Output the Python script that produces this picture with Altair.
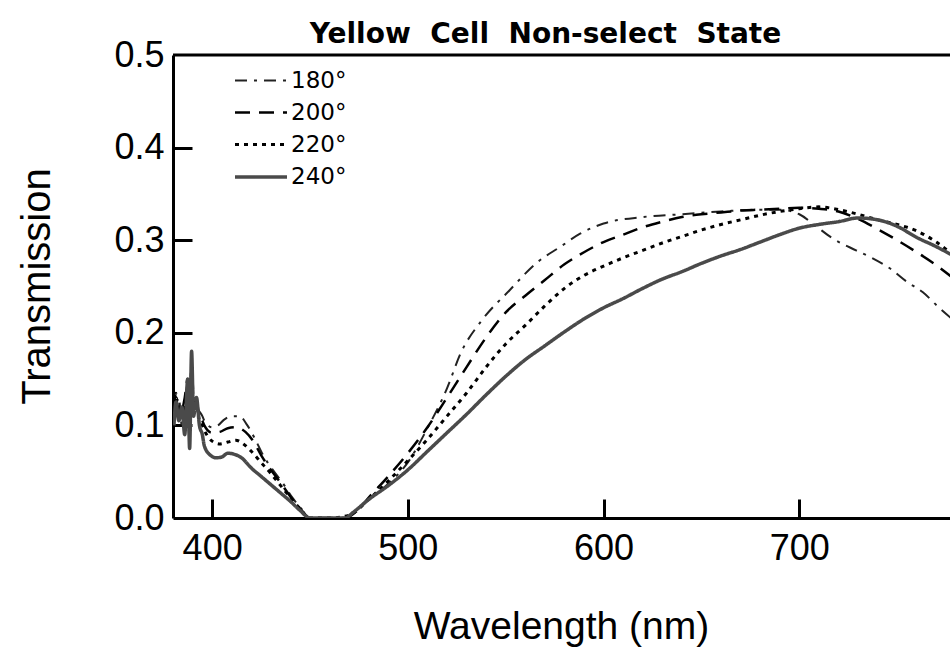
import altair as alt
import pandas as pd

series_names = ["180°", "200°", "220°", "240°"]

# ---- 180° (dash-dot) ----
wl_180 = [380.5, 381.5, 383, 384.5, 386, 387.5, 388.5, 389.5, 390.5, 392, 393.5, 395,
          396, 400, 403, 406, 410, 414, 418, 422, 426, 431, 436, 441, 446, 450,
          455, 460, 468, 475, 480, 490, 500, 510, 520, 527, 538, 552, 566, 578, 588,
          600, 620, 640, 660, 680, 690, 700, 708, 717, 729, 737, 746, 755, 763, 771, 778]
t_180 = [0.105, 0.12, 0.13, 0.10, 0.125, 0.145, 0.095, 0.17, 0.125, 0.12, 0.115, 0.11,
         0.105, 0.098, 0.100, 0.106, 0.110, 0.110, 0.100, 0.085, 0.068, 0.052, 0.038, 0.022, 0.009, 0.0,
         0.0, 0.0, 0.0, 0.010, 0.020, 0.037, 0.060, 0.097, 0.140, 0.178, 0.214, 0.246, 0.276, 0.293, 0.307,
         0.318, 0.325, 0.328, 0.331, 0.333, 0.333, 0.328, 0.316, 0.302, 0.289, 0.281, 0.270, 0.255, 0.244, 0.228, 0.215]

# ---- 200° (dashed) ----
wl_200 = [380.5, 381.5, 383, 384.5, 386, 387.5, 388.5, 389.5, 390.5, 392, 393.5, 395,
          396, 400, 404, 408, 412, 417, 421, 425, 430, 435, 440, 445, 450,
          455, 460, 468, 475, 480, 490, 500, 510, 520, 530, 540, 550, 560, 570, 580, 590,
          600, 610, 620, 630, 640, 650, 660, 670, 680, 690, 700, 710, 720, 730, 740, 750, 760, 770, 778]
t_200 = [0.12, 0.135, 0.11, 0.115, 0.13, 0.15, 0.10, 0.165, 0.13, 0.12, 0.11, 0.105,
         0.100, 0.092, 0.093, 0.097, 0.098, 0.093, 0.083, 0.068, 0.052, 0.038, 0.023, 0.010, 0.0,
         0.0, 0.0, 0.0, 0.010, 0.022, 0.045, 0.070, 0.098, 0.130, 0.163, 0.195, 0.222, 0.240, 0.257, 0.274, 0.287,
         0.298, 0.306, 0.314, 0.320, 0.325, 0.328, 0.330, 0.332, 0.333, 0.334, 0.335, 0.334, 0.331, 0.323, 0.312, 0.300, 0.287, 0.273, 0.260]

# ---- 220° (dotted) ----
wl_220 = [380.5, 381.5, 383, 384.5, 386, 387.5, 388.5, 389.5, 390.5, 392, 393.5, 395,
          396, 400, 404, 408, 412, 416, 420, 425, 430, 435, 440, 445, 450,
          455, 460, 470, 480, 490, 500, 510, 520, 530, 540, 550, 560, 570, 580, 590,
          600, 610, 620, 630, 640, 650, 660, 670, 680, 690, 700, 710, 720, 730, 740, 750, 760, 770, 778]
t_220 = [0.11, 0.13, 0.115, 0.105, 0.12, 0.14, 0.09, 0.16, 0.12, 0.125, 0.105, 0.10,
         0.095, 0.083, 0.080, 0.082, 0.084, 0.080, 0.072, 0.060, 0.048, 0.035, 0.022, 0.010, 0.0,
         0.0, 0.0, 0.003, 0.020, 0.040, 0.062, 0.085, 0.110, 0.135, 0.163, 0.188, 0.208, 0.229, 0.248, 0.262,
         0.272, 0.281, 0.289, 0.297, 0.304, 0.311, 0.317, 0.322, 0.327, 0.331, 0.334, 0.336, 0.333, 0.328, 0.322, 0.317, 0.310, 0.298, 0.285]

# ---- 240° (solid) ----
wl_240 = [380.5, 381.5, 383, 384.5, 386, 387.5, 388.5, 389.5, 390.5, 392, 393.5, 395,
          396, 399, 402, 405, 408, 411, 415, 420, 425, 430, 435, 440, 445, 450,
          455, 460, 468, 472, 480, 490, 500, 510, 520, 530, 540, 550, 560, 570, 580, 590,
          600, 610, 620, 630, 640, 650, 660, 670, 680, 690, 700, 710, 720, 730, 740, 750, 760, 770, 778]
t_240 = [0.10, 0.125, 0.105, 0.12, 0.09, 0.15, 0.075, 0.18, 0.11, 0.13, 0.10, 0.09,
         0.078, 0.068, 0.065, 0.066, 0.070, 0.069, 0.065, 0.054, 0.045, 0.036, 0.027, 0.018, 0.008, 0.0,
         0.0, 0.0, 0.0, 0.006, 0.020, 0.035, 0.052, 0.072, 0.092, 0.112, 0.133, 0.153, 0.171, 0.186, 0.201, 0.215,
         0.227, 0.237, 0.248, 0.258, 0.266, 0.275, 0.283, 0.290, 0.298, 0.306, 0.313, 0.317, 0.320, 0.324, 0.322, 0.315, 0.303, 0.293, 0.284]

x_ticks = [400, 500, 600, 700]
y_ticks = [0.1, 0.2, 0.3, 0.4]
y_labels = [0.0, 0.1, 0.2, 0.3, 0.4, 0.5]

rows = []
for name, wl, t in zip(series_names, [wl_180, wl_200, wl_220, wl_240], [t_180, t_200, t_220, t_240]):
    for w, v in zip(wl, t):
        rows.append({"series": name, "wl": w, "T": v})
df = pd.DataFrame(rows)

X_MIN, X_MAX = 380, 777
Y_MIN, Y_MAX = 0.0, 0.5
W, H = 777, 463
FONT = "Liberation Sans"
x_scale = alt.Scale(domain=[X_MIN, X_MAX], nice=False, zero=False)
y_scale = alt.Scale(domain=[Y_MIN, Y_MAX], nice=False)

x_axis = alt.Axis(values=x_ticks, title="Wavelength (nm)", ticks=False, tickSize=0,
                  labelFont=FONT, labelFontSize=36, labelColor="black", labelPadding=13,
                  grid=False, domainColor="black", domainWidth=3,
                  titleFont=FONT, titleFontSize=39, titleFontWeight="normal", titleColor="black",
                  titleX=388, titleY=108, titleBaseline="middle", titleAlign="center")
y_axis = alt.Axis(values=y_labels, format=".1f", title="Transmission", ticks=False, tickSize=0,
                  labelFont=FONT, labelFontSize=36, labelColor="black", labelPadding=9,
                  grid=False, domainColor="black", domainWidth=3,
                  titleFont=FONT, titleFontSize=40, titleFontWeight="normal", titleColor="black",
                  titleX=-136, titleY=231, titleAngle=-90, titleBaseline="middle", titleAlign="center")

# second pair of axes, moved onto the opposite edges so their ticks point into the plot
x_in_axis = alt.Axis(orient="top", offset=-H, values=x_ticks, labels=False, domain=False,
                     ticks=True, tickSize=19, tickWidth=3, tickColor="black", grid=False, title=None)
y_in_axis = alt.Axis(orient="right", offset=-W, values=y_ticks, labels=False, domain=False,
                     ticks=True, tickSize=19, tickWidth=3, tickColor="black", grid=False, title=None)

leg = alt.Legend(title=None, orient="none", legendX=76, legendY=14,
                 symbolType="M-2.6,0H2.6", symbolSize=400, labelFont="DejaVu Sans",
                 labelFontSize=23, labelColor="black", labelOffset=18, rowPadding=8)

lines = alt.Chart(df).mark_line(clip=True, interpolate="monotone").encode(
    x=alt.X("wl:Q", scale=x_scale, axis=x_axis),
    y=alt.Y("T:Q", scale=y_scale, axis=y_axis),
    strokeDash=alt.StrokeDash("series:N", scale=alt.Scale(domain=series_names,
                              range=[[12, 7, 3, 7], [15, 9], [4, 5], [1, 0]]), legend=leg),
    color=alt.Color("series:N", scale=alt.Scale(domain=series_names,
                    range=["#222222", "#000000", "#000000", "#4a4a4a"]), legend=leg),
    strokeWidth=alt.StrokeWidth("series:N", scale=alt.Scale(domain=series_names,
                                range=[2.0, 3.5, 3.0, 1.8]), legend=leg),
)

# top frame line, carrying the inward tick axes
frame_df = pd.DataFrame({"x1": [X_MIN], "x2": [X_MAX], "y1": [Y_MAX]})
frame = alt.Chart(frame_df).mark_rule(color="black", strokeWidth=3).encode(
    x=alt.X("x1:Q", scale=x_scale, axis=x_in_axis), x2="x2:Q",
    y=alt.Y("y1:Q", scale=y_scale, axis=y_in_axis))

chart = alt.layer(lines, frame).resolve_axis(x="independent", y="independent").properties(
    width=W, height=H,
    title=alt.TitleParams(text="Yellow \u00a0Cell \u00a0Non-select \u00a0State", font="DejaVu Sans",
                          fontSize=28, fontWeight="bold", color="black", anchor="middle",
                          frame="group", dx=-16, dy=50, offset=16, baseline="alphabetic"),
    autosize=alt.AutoSizeParams(type="none"),
    padding={"left": 173, "top": 55, "right": 0, "bottom": 135},
).configure_view(stroke=None).configure(background="white")

chart.save("out.html", embed_options={"renderer": "svg", "actions": False})
